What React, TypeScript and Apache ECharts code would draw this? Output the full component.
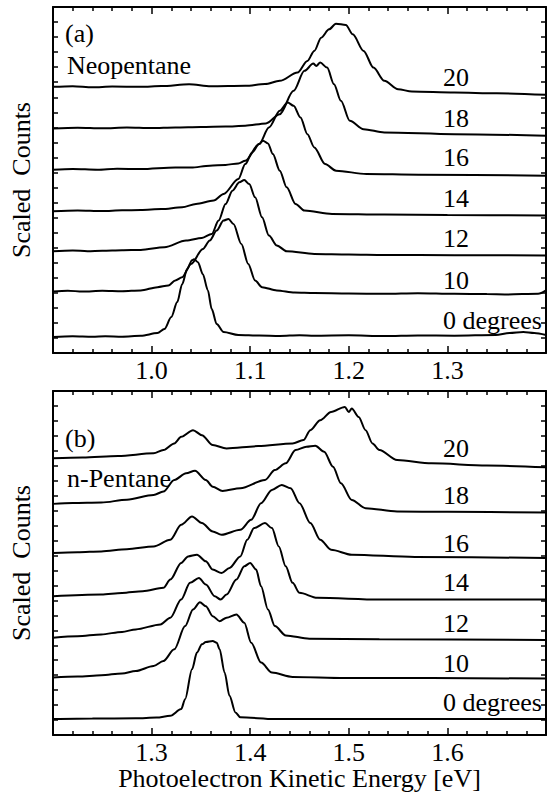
import React, { useEffect, useRef } from "react";
import * as echarts from "echarts";

// ---------- Panel (a): Neopentane, [energy eV, scaled counts] ----------
const neo0 = [[0.900,16],[0.920,16.7],[0.940,16.2],[0.953,16.8],[0.970,16.4],[0.989,17.2],[1.006,20],[1.013,24],[1.020,36],[1.026,51],[1.031,69],[1.036,84],[1.041,93],[1.043,94],[1.047,91],[1.052,79],[1.057,63],[1.061,44],[1.066,29],[1.073,21],[1.088,18],[1.109,17.5],[1.130,17.1],[1.150,17.8],[1.165,17.3],[1.200,17.7],[1.236,17],[1.270,17.6],[1.307,17.4],[1.349,18],[1.363,20],[1.377,21],[1.388,20],[1.400,18]];
const neo10 = [[0.900,61.7],[0.915,62.5],[0.930,61.5],[0.950,62.4],[0.970,61.9],[0.989,62.7],[1.006,66],[1.017,67.7],[1.024,72.7],[1.031,76],[1.040,89.3],[1.052,104.3],[1.059,112.7],[1.066,122.7],[1.073,132.7],[1.078,134.3],[1.083,129.3],[1.091,109.3],[1.098,89.3],[1.105,72.7],[1.112,66],[1.127,62.7],[1.145,60.5],[1.165,60],[1.200,59.6],[1.236,59.3],[1.270,59.9],[1.307,59.3],[1.340,59],[1.360,58.7],[1.392,59.3],[1.400,62.7]];
const neo12 = [[0.900,102],[0.920,102.8],[0.935,101.9],[0.950,102.5],[0.970,103],[0.989,103.3],[1.013,106],[1.035,112.7],[1.051,115.3],[1.061,119.3],[1.068,132.7],[1.075,149.3],[1.082,162.7],[1.089,171],[1.094,173.3],[1.099,169.3],[1.105,156],[1.112,136],[1.119,117.7],[1.127,107.7],[1.137,102],[1.165,99.3],[1.200,98.8],[1.236,98.3],[1.307,98],[1.400,97.7]];
const neo14 = [[0.900,142],[0.925,142.8],[0.950,142.2],[0.970,143],[0.989,143.3],[1.010,144.2],[1.031,146],[1.045,149.3],[1.063,152.7],[1.073,159.3],[1.088,174.3],[1.095,189.3],[1.102,201],[1.109,209.3],[1.113,212.7],[1.118,210],[1.123,199.3],[1.130,182.7],[1.137,166],[1.146,149.3],[1.155,142.7],[1.183,139.3],[1.236,138.7],[1.300,138.3],[1.400,137.7]];
const neo16 = [[0.900,183.7],[0.920,184.4],[0.945,183.6],[0.965,184.6],[0.989,184.3],[1.024,186],[1.040,185.8],[1.059,187.7],[1.075,188.5],[1.088,190],[1.095,192.7],[1.109,209.3],[1.119,226],[1.130,242.7],[1.138,251],[1.144,247.7],[1.151,236],[1.158,219.3],[1.165,206],[1.176,189.3],[1.187,182.7],[1.218,179.3],[1.271,178.7],[1.400,177.7]];
const neo18 = [[0.900,225],[0.925,225.8],[0.950,225.1],[0.975,226],[1.000,225.4],[1.024,226],[1.050,226.5],[1.075,226.9],[1.095,227.7],[1.116,230],[1.130,239.3],[1.144,262.7],[1.155,282.7],[1.164,290],[1.167,287.7],[1.171,291],[1.178,286],[1.185,269.3],[1.192,252.7],[1.201,232.7],[1.215,224.3],[1.236,221],[1.307,219.3],[1.400,217.7]];
const neo20 = [[0.900,266.7],[0.920,267.4],[0.940,266.2],[0.960,267.1],[0.989,266.7],[1.010,267.5],[1.038,269.3],[1.060,267.2],[1.095,267.7],[1.115,269.5],[1.130,272.7],[1.148,281],[1.158,292.7],[1.165,302.7],[1.172,316],[1.180,324.3],[1.187,330],[1.197,328.7],[1.204,319.3],[1.215,302.7],[1.225,286],[1.236,272.7],[1.250,264.3],[1.264,262],[1.307,261],[1.350,260.2],[1.400,258.7]];

// ---------- Panel (b): n-Pentane ----------
const pen0 = [[1.200,16],[1.240,16.5],[1.284,16.7],[1.305,17.5],[1.319,19.3],[1.330,26],[1.334,36],[1.341,66],[1.346,82.7],[1.351,91],[1.355,93.3],[1.362,94.3],[1.366,92.7],[1.369,86],[1.374,62.7],[1.379,39.3],[1.385,22.7],[1.390,17.7],[1.425,16],[1.700,16]];
const pen10 = [[1.200,57.7],[1.225,58.6],[1.249,60],[1.270,61.8],[1.284,64.3],[1.302,69.3],[1.312,74.3],[1.323,86],[1.334,109.3],[1.342,126],[1.349,133.3],[1.355,129.3],[1.362,119.3],[1.369,114.3],[1.376,117.7],[1.386,121],[1.394,112.7],[1.401,92.7],[1.411,72.7],[1.422,62.7],[1.443,58.3],[1.496,57.3],[1.700,56.7]];
const pen12 = [[1.200,97.7],[1.225,99.2],[1.249,101],[1.270,103.5],[1.284,106],[1.309,111],[1.319,117.7],[1.330,136],[1.339,152.7],[1.348,157.7],[1.355,151],[1.364,139.3],[1.370,136],[1.376,141],[1.386,156],[1.394,169.3],[1.400,172.7],[1.406,166],[1.411,149.3],[1.418,126],[1.425,109.3],[1.436,100],[1.460,96.7],[1.531,96],[1.700,95.3]];
const pen14 = [[1.200,139.3],[1.249,141],[1.270,142.6],[1.291,144.3],[1.312,147.7],[1.319,156],[1.330,172.7],[1.337,179.3],[1.346,181],[1.355,174.3],[1.362,166],[1.371,162.7],[1.379,167.7],[1.390,179.3],[1.397,196],[1.404,207.7],[1.415,212.7],[1.422,207.7],[1.429,189.3],[1.436,169.3],[1.443,152.7],[1.450,142.7],[1.468,137.7],[1.531,136],[1.700,136]];
const pen16 = [[1.200,182.7],[1.225,183.4],[1.249,184.3],[1.275,186.5],[1.302,189.3],[1.319,196],[1.330,211],[1.341,219.3],[1.351,212.7],[1.362,204.3],[1.371,201],[1.390,206],[1.401,216],[1.411,232.7],[1.422,246],[1.432,251],[1.441,247.7],[1.450,232.7],[1.461,212.7],[1.471,196],[1.482,186],[1.503,181],[1.567,178.7],[1.700,177.7]];
const pen18 = [[1.200,232],[1.220,232.8],[1.249,233.3],[1.275,236.2],[1.302,241],[1.312,244.3],[1.323,256],[1.335,262.7],[1.344,265.3],[1.355,256],[1.362,249.3],[1.372,245],[1.390,247.7],[1.415,256],[1.425,266],[1.436,272.7],[1.446,286],[1.457,289.3],[1.466,290.3],[1.475,284.3],[1.484,269.3],[1.492,252.7],[1.503,236],[1.517,227.7],[1.549,224.3],[1.600,224],[1.700,223.3]];
const pen20 = [[1.200,277.7],[1.230,278.6],[1.266,280],[1.302,282.7],[1.312,286],[1.323,292.7],[1.330,299.3],[1.342,306],[1.351,301],[1.362,291],[1.376,287.7],[1.408,290],[1.443,292.7],[1.454,296],[1.461,306],[1.471,316],[1.482,324.3],[1.496,329.3],[1.500,324.3],[1.503,327.7],[1.510,319.3],[1.517,306],[1.524,292.7],[1.531,286],[1.549,276],[1.584,272.7],[1.640,270.5],[1.700,268.7]];

const curveLabels = ["20", "18", "16", "14", "12", "10", "0 degrees"];
const xRangeA = [0.9, 1.4];
const xRangeB = [1.2, 1.7];
const yMaxA = 346.7;
const yMaxB = 345.3;
const yTickCount = 23;

const FONT = "Liberation Serif";
const FS = 26;

export default function App() {
  const ref = useRef<HTMLDivElement>(null);
  useEffect(() => {
    if (!ref.current) return;
    const chart = echarts.init(ref.current, undefined, { renderer: "svg" });

    const xAxisCommon = (grid: number, range: number[], pos: "bottom" | "top", labels: boolean) => ({
      type: "value",
      gridIndex: grid,
      position: pos,
      min: range[0],
      max: range[1],
      interval: 0.1,
      axisLine: { show: true, onZero: false, lineStyle: { color: "#000", width: 2 } },
      axisTick: { show: true, inside: true, length: 7, lineStyle: { color: "#000", width: 1.5 } },
      minorTick: { show: true, splitNumber: 5, length: 4, lineStyle: { color: "#000", width: 1.5 } },
      splitLine: { show: false },
      axisLabel: {
        show: labels,
        showMinLabel: false,
        showMaxLabel: false,
        margin: 4,
        color: "#000",
        fontFamily: FONT,
        fontSize: FS,
        formatter: (v: number) => v.toFixed(1),
      },
    });
    const yAxisCommon = (grid: number, max: number, pos: "left" | "right", name: string) => ({
      type: "value",
      gridIndex: grid,
      position: pos,
      min: 0,
      max,
      interval: max / yTickCount,
      name,
      nameLocation: "middle",
      nameRotate: 90,
      nameGap: 19,
      nameTextStyle: { color: "#000", fontFamily: FONT, fontSize: FS },
      axisLine: { show: true, lineStyle: { color: "#000", width: 2 } },
      axisTick: { show: true, inside: true, length: 5, lineStyle: { color: "#000", width: 1.5 } },
      splitLine: { show: false },
      axisLabel: { show: false },
    });

    const mk = (data: number[][], xi: number, yi: number) => ({
      type: "line",
      data,
      xAxisIndex: xi,
      yAxisIndex: yi,
      showSymbol: false,
      symbol: "none",
      smooth: 0.3,
      smoothMonotone: "x",
      lineStyle: { color: "#000", width: 2 },
      silent: true,
    });

    const labelYA = [77, 118, 157, 198, 238, 280, 320];
    const labelYB = [448, 495, 543, 582, 623, 663, 702];
    const txt = (text: string, x: number, y: number) => ({
      type: "text",
      x,
      y,
      style: {
        text,
        fill: "#000",
        fontFamily: FONT,
        fontSize: FS,
        textAlign: "left",
        textVerticalAlign: "middle",
        verticalAlign: "middle",
      },
    });

    chart.setOption({
      animation: false,
      backgroundColor: "#fff",
      grid: [
        { left: 52, top: 7, width: 494, height: 346 },
        { left: 53, top: 391, width: 493, height: 344 },
      ],
      xAxis: [
        xAxisCommon(0, xRangeA, "bottom", true),
        xAxisCommon(0, xRangeA, "top", false),
        {
          ...xAxisCommon(1, xRangeB, "bottom", true),
          name: "Photoelectron Kinetic Energy [eV]",
          nameLocation: "middle",
          nameGap: 28,
          nameTextStyle: { color: "#000", fontFamily: FONT, fontSize: FS },
        },
        xAxisCommon(1, xRangeB, "top", false),
      ],
      yAxis: [
        yAxisCommon(0, yMaxA, "left", "Scaled  Counts"),
        yAxisCommon(0, yMaxA, "right", ""),
        yAxisCommon(1, yMaxB, "left", "Scaled  Counts"),
        yAxisCommon(1, yMaxB, "right", ""),
      ],
      series: [
        mk(neo0, 0, 0), mk(neo10, 0, 0), mk(neo12, 0, 0), mk(neo14, 0, 0),
        mk(neo16, 0, 0), mk(neo18, 0, 0), mk(neo20, 0, 0),
        mk(pen0, 2, 2), mk(pen10, 2, 2), mk(pen12, 2, 2), mk(pen14, 2, 2),
        mk(pen16, 2, 2), mk(pen18, 2, 2), mk(pen20, 2, 2),
      ],
      graphic: [
        txt("(a)", 65, 33),
        txt("Neopentane", 67, 65),
        txt("(b)", 65, 438),
        txt("n-Pentane", 67, 478),
        ...curveLabels.map((t, i) => txt(t, 443, labelYA[i])),
        ...curveLabels.map((t, i) => txt(t, 443, labelYB[i])),
      ],
    });
    return () => chart.dispose();
  }, []);
  return (
    <div
      ref={ref}
      style={{ position: "fixed", left: 0, top: 0, width: 547, height: 793, background: "#fff" }}
    />
  );
}
